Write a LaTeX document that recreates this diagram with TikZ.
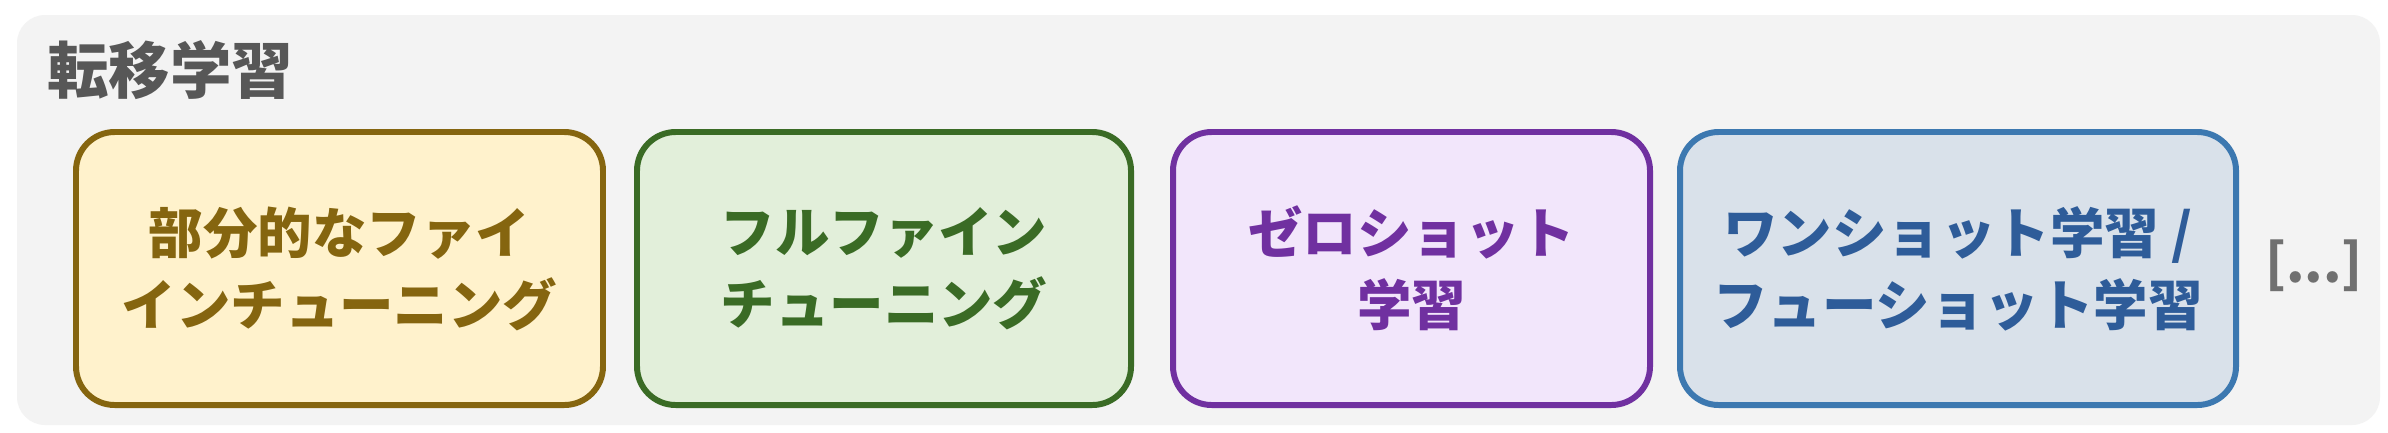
\documentclass[tikz,border=0pt]{standalone}
\usepackage{fontspec}
\setmainfont{Noto Sans CJK JP}

\definecolor{haikei}{HTML}{F3F3F3}
\definecolor{hai}{HTML}{575757}
\definecolor{kiiro}{HTML}{FFF2CC}
\definecolor{kiwaku}{HTML}{85650F}
\definecolor{midori}{HTML}{E2EFDA}
\definecolor{midoriwaku}{HTML}{3A6B25}
\definecolor{murasaki}{HTML}{F2E6FB}
\definecolor{murasakiwaku}{HTML}{7030A0}
\definecolor{ao}{HTML}{D9E1EA}
\definecolor{aowaku}{HTML}{3C78B0}
\definecolor{aomoji}{HTML}{2E5C99}

\tikzset{every picture/.style={line width=0.75pt}}
\tikzset{
  waku/.style={draw, line width=1.7pt, rounded corners=11pt, minimum height=2.73cm,
    align=center, inner sep=0pt, font=\fontsize{15.5}{20.5}\selectfont\bfseries},
}

\begin{document}
\begin{tikzpicture}[x=1cm,y=1cm]
	\useasboundingbox[fill=white] (0,0) rectangle (23.88,4.32);
	\fill[haikei, rounded corners=8pt] (0.17,0.07) rectangle (23.80,4.17); %背景
	\node[anchor=west, text=hai, font=\fontsize{17.5}{20}\selectfont\bfseries] (title) at (0.34,3.62) {転移学習}; %タイトル
	\node[waku, fill=kiiro, draw=kiwaku, text=kiwaku, minimum width=5.27cm] (bubun) at (3.395,1.635) {部分的なファイ\\インチューニング};
	\node[waku, fill=midori, draw=midoriwaku, text=midoriwaku, minimum width=4.94cm] (full) at (8.84,1.635) {フルファイン\\チューニング};
	\node[waku, fill=murasaki, draw=murasakiwaku, text=murasakiwaku, minimum width=4.77cm] (zero) at (14.115,1.635) {ゼロショット\\学習};
	\node[waku, fill=ao, draw=aowaku, text=aomoji, minimum width=5.56cm] (few) at (19.58,1.635) {ワンショット学習 /\\フューショット学習};
	\node[text=hai!85, font=\fontsize{15}{18}\selectfont\bfseries] (sonota) at (23.14,1.66) {[...]}; %省略
\end{tikzpicture}
\end{document}
